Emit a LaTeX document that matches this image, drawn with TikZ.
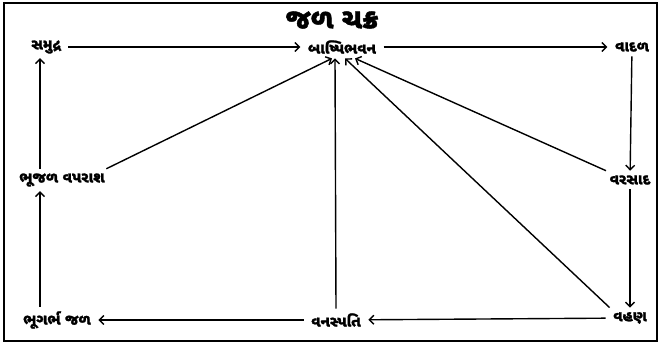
\documentclass[tikz,border=0pt]{standalone}
\usepackage{fontspec}
\newfontfamily\gujfont[Script=Gujarati,FakeBold=1.6]{Noto Sans Gujarati UI}
\usetikzlibrary{arrows.meta}
\begin{document}
\begin{tikzpicture}[x=1pt, y=-1pt, line width=1.4pt, >={Straight Barb[length=4.5pt,width=9pt]},
  lbl/.style={font=\gujfont\bfseries\fontsize{15}{18}\selectfont, inner xsep=7pt, inner ysep=4pt}]

  \useasboundingbox (0,0) rectangle (661,345);
  \draw[line width=2.4pt] (4,3) rectangle (657,341);

  % ---------- title ----------
  \node[font=\gujfont\bfseries\fontsize{28}{32}\selectfont] (title) at (332,20) {જળ ચક્ર};

  % ---------- stages ----------
  \node[lbl] (samudra) at (46,47)  {સમુદ્ર};
  \node[lbl] (baspi)   at (342,47) {બાષ્પિભવન};
  \node[lbl] (vadal)   at (632,47) {વાદળ};
  \node[lbl] (bhujal)  at (62,180) {ભૂજળ વપરાશ};
  \node[lbl] (varsad)  at (630,180) {વરસાદ};
  \node[lbl] (bhugarbh) at (57,320) {ભૂગર્ભ જળ};
  \node[lbl] (vanas)   at (336,320) {વનસ્પતિ};
  \node[lbl] (vahan)   at (630,318) {વહણ};

  % ---------- outer cycle ----------
  \draw[->] (samudra) -- (baspi);
  \draw[->] (baspi) -- (vadal);
  \draw[->] (vadal) -- (varsad);
  \draw[->] (varsad) -- (vahan);
  \draw[->] (vahan) -- (vanas);
  \draw[->] (vanas) -- (bhugarbh);
  \draw[->] ([xshift=-6pt]bhugarbh.north -| samudra.south) -- ([xshift=-6pt]samudra.south |- bhujal.south);
  \draw[->] ([xshift=-6pt]samudra.south |- bhujal.north) -- ([xshift=-6pt]samudra.south);

  % ---------- back to evaporation ----------
  \draw[->] ([xshift=-6pt]bhujal.north east) -- ([xshift=-10pt]baspi.south);
  \draw[->] (vanas.north) -- ([xshift=-7pt]baspi.south);
  \draw[->] ([xshift=4pt]varsad.north west) -- ([xshift=13pt]baspi.south);
  \draw[->] ([xshift=4pt]vahan.north west) -- ([xshift=3pt]baspi.south);

\end{tikzpicture}
\end{document}
